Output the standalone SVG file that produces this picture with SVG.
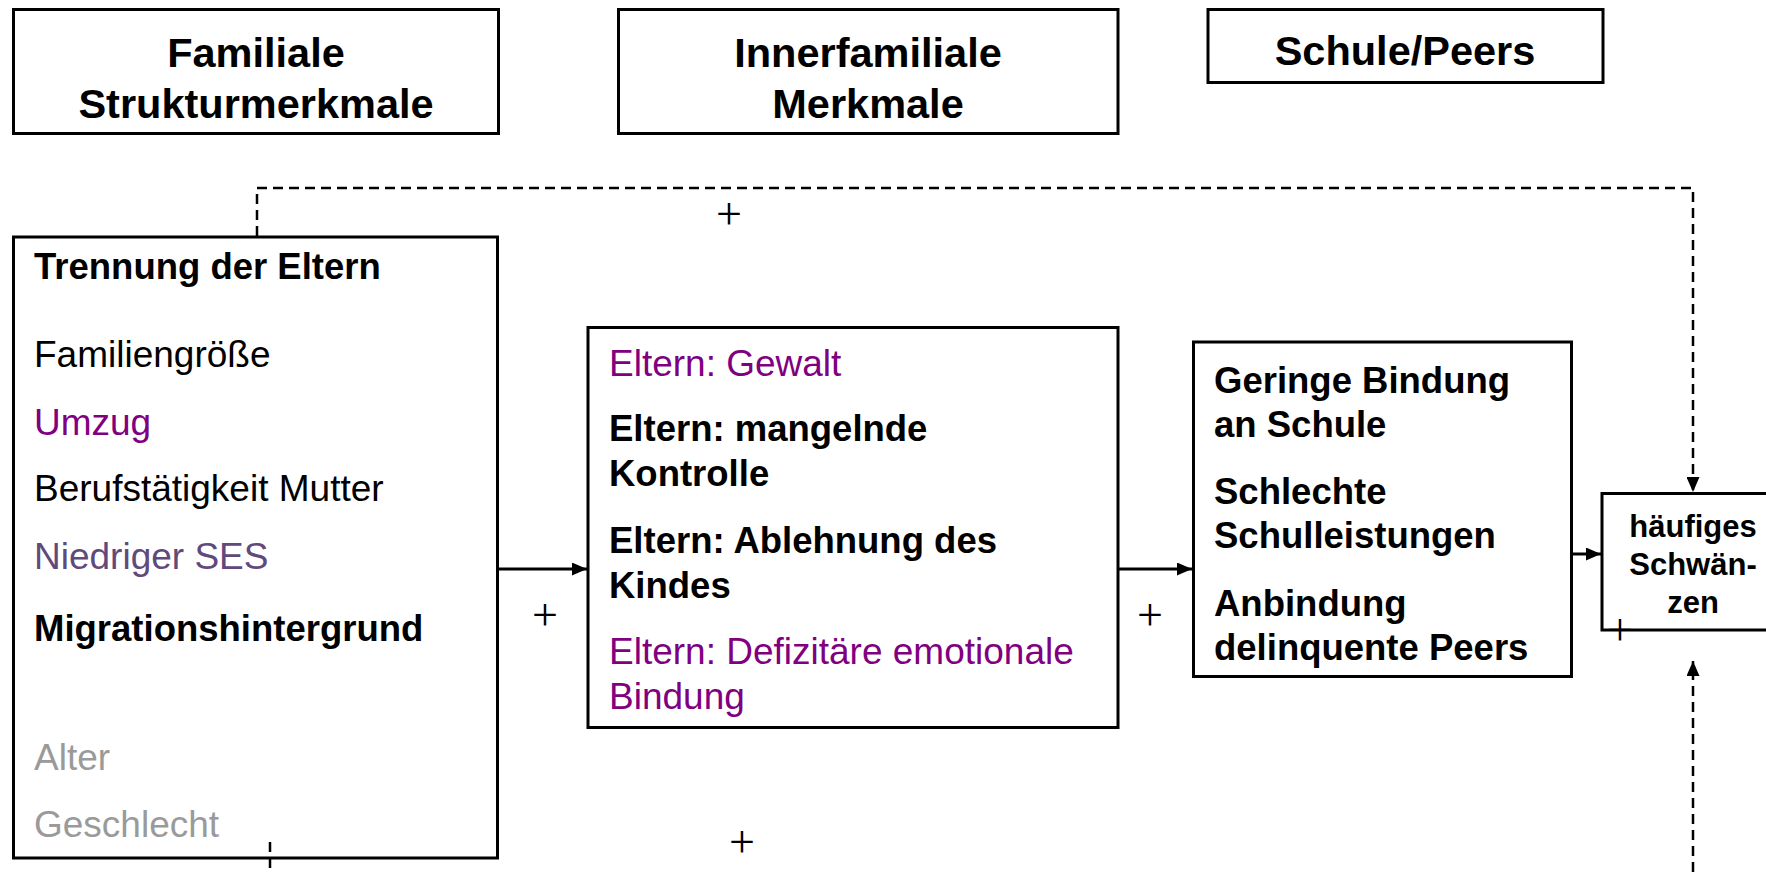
<svg xmlns="http://www.w3.org/2000/svg" width="1766" height="872" viewBox="0 0 1766 872">
<style>
  .box{fill:#ffffff;stroke:#000000;stroke-width:3}
  .hdr{font-family:"Liberation Sans",Arial,sans-serif;font-weight:bold;font-size:41.5px;fill:#000;text-anchor:middle}
  .t{font-family:"Liberation Sans",Arial,sans-serif;font-size:37px;fill:#000}
  .b{font-weight:bold;font-size:36.5px}
  .purple{fill:#800080}
  .ses{fill:#604a7b}
  .gray{fill:#9a9a9a}
  .small{font-family:"Liberation Sans",Arial,sans-serif;font-weight:bold;font-size:31px;fill:#000;text-anchor:middle}
  .plus{font-family:"Liberation Serif","Times New Roman",serif;font-size:46px;fill:#000;text-anchor:middle}
  .solid{fill:none;stroke:#000;stroke-width:3}
  .dash{fill:none;stroke:#000;stroke-width:2.5;stroke-dasharray:10 6}
</style>
<defs>
  <marker id="arr" markerUnits="userSpaceOnUse" markerWidth="15" markerHeight="13" refX="15" refY="6.5" orient="auto">
    <path d="M0,0 L15,6.5 L0,13 z" fill="#000" stroke="none"/>
  </marker>
</defs>
<rect width="1766" height="872" fill="#ffffff"/>

<g id="hdr-familiale">
  <rect class="box" x="13.5" y="9.5" width="485" height="124"/>
  <text class="hdr" x="256" y="67">Familiale</text>
  <text class="hdr" x="256" y="118">Strukturmerkmale</text>
</g>
<g id="hdr-innerfamiliale">
  <rect class="box" x="618.5" y="9.5" width="499.5" height="124"/>
  <text class="hdr" x="868" y="67">Innerfamiliale</text>
  <text class="hdr" x="868" y="118">Merkmale</text>
</g>
<g id="hdr-schule">
  <rect class="box" x="1208" y="9.5" width="395" height="73"/>
  <text class="hdr" x="1405" y="65">Schule/Peers</text>
</g>

<g id="node-struktur">
  <rect class="box" x="13.5" y="237" width="484" height="621"/>
  <text class="t b" x="34" y="279">Trennung der Eltern</text>
  <text class="t" x="34" y="367">Familiengröße</text>
  <text class="t purple" x="34" y="435">Umzug</text>
  <text class="t" x="34" y="501">Berufstätigkeit Mutter</text>
  <text class="t ses" x="34" y="569">Niedriger SES</text>
  <text class="t b" x="34" y="641">Migrationshintergrund</text>
  <text class="t gray" x="34" y="770">Alter</text>
  <text class="t gray" x="34" y="837">Geschlecht</text>
</g>

<g id="node-innerfam">
  <rect class="box" x="588" y="327.5" width="530" height="400"/>
  <text class="t purple" x="609" y="376">Eltern: Gewalt</text>
  <text class="t b" x="609" y="441">Eltern: mangelnde</text>
  <text class="t b" x="609" y="486">Kontrolle</text>
  <text class="t b" x="609" y="553">Eltern: Ablehnung des</text>
  <text class="t b" x="609" y="598">Kindes</text>
  <text class="t purple" x="609" y="664">Eltern: Defizitäre emotionale</text>
  <text class="t purple" x="609" y="709">Bindung</text>
</g>

<g id="node-schule">
  <rect class="box" x="1193.5" y="342" width="378" height="334.5"/>
  <text class="t b" x="1214" y="393">Geringe Bindung</text>
  <text class="t b" x="1214" y="437">an Schule</text>
  <text class="t b" x="1214" y="504">Schlechte</text>
  <text class="t b" x="1214" y="548">Schulleistungen</text>
  <text class="t b" x="1214" y="616">Anbindung</text>
  <text class="t b" x="1214" y="660">delinquente Peers</text>
</g>

<g id="node-schwaenzen">
  <rect class="box" x="1602" y="493.5" width="180" height="136.5"/>
  <text class="small" x="1693" y="537">häufiges</text>
  <text class="small" x="1693" y="575">Schwän-</text>
  <text class="small" x="1693" y="613">zen</text>
</g>

<g id="connectors">
  <line class="solid" x1="498" y1="569" x2="587" y2="569" marker-end="url(#arr)"/>
  <line class="solid" x1="1118" y1="569" x2="1192" y2="569" marker-end="url(#arr)"/>
  <line class="solid" x1="1571" y1="554" x2="1601" y2="554" marker-end="url(#arr)"/>
  <path class="dash" d="M257,236 V188 H1693 V492" marker-end="url(#arr)"/>
  <path class="dash" d="M1693,872 V661" marker-end="url(#arr)"/>
  <path class="dash" d="M270,842 V872"/>
</g>

<g id="labels">
  <text class="plus" x="729" y="229">+</text>
  <text class="plus" x="545" y="630">+</text>
  <text class="plus" x="1150" y="630">+</text>
  <text class="plus" x="1620" y="645">+</text>
  <text class="plus" x="742" y="857">+</text>
</g>
</svg>
